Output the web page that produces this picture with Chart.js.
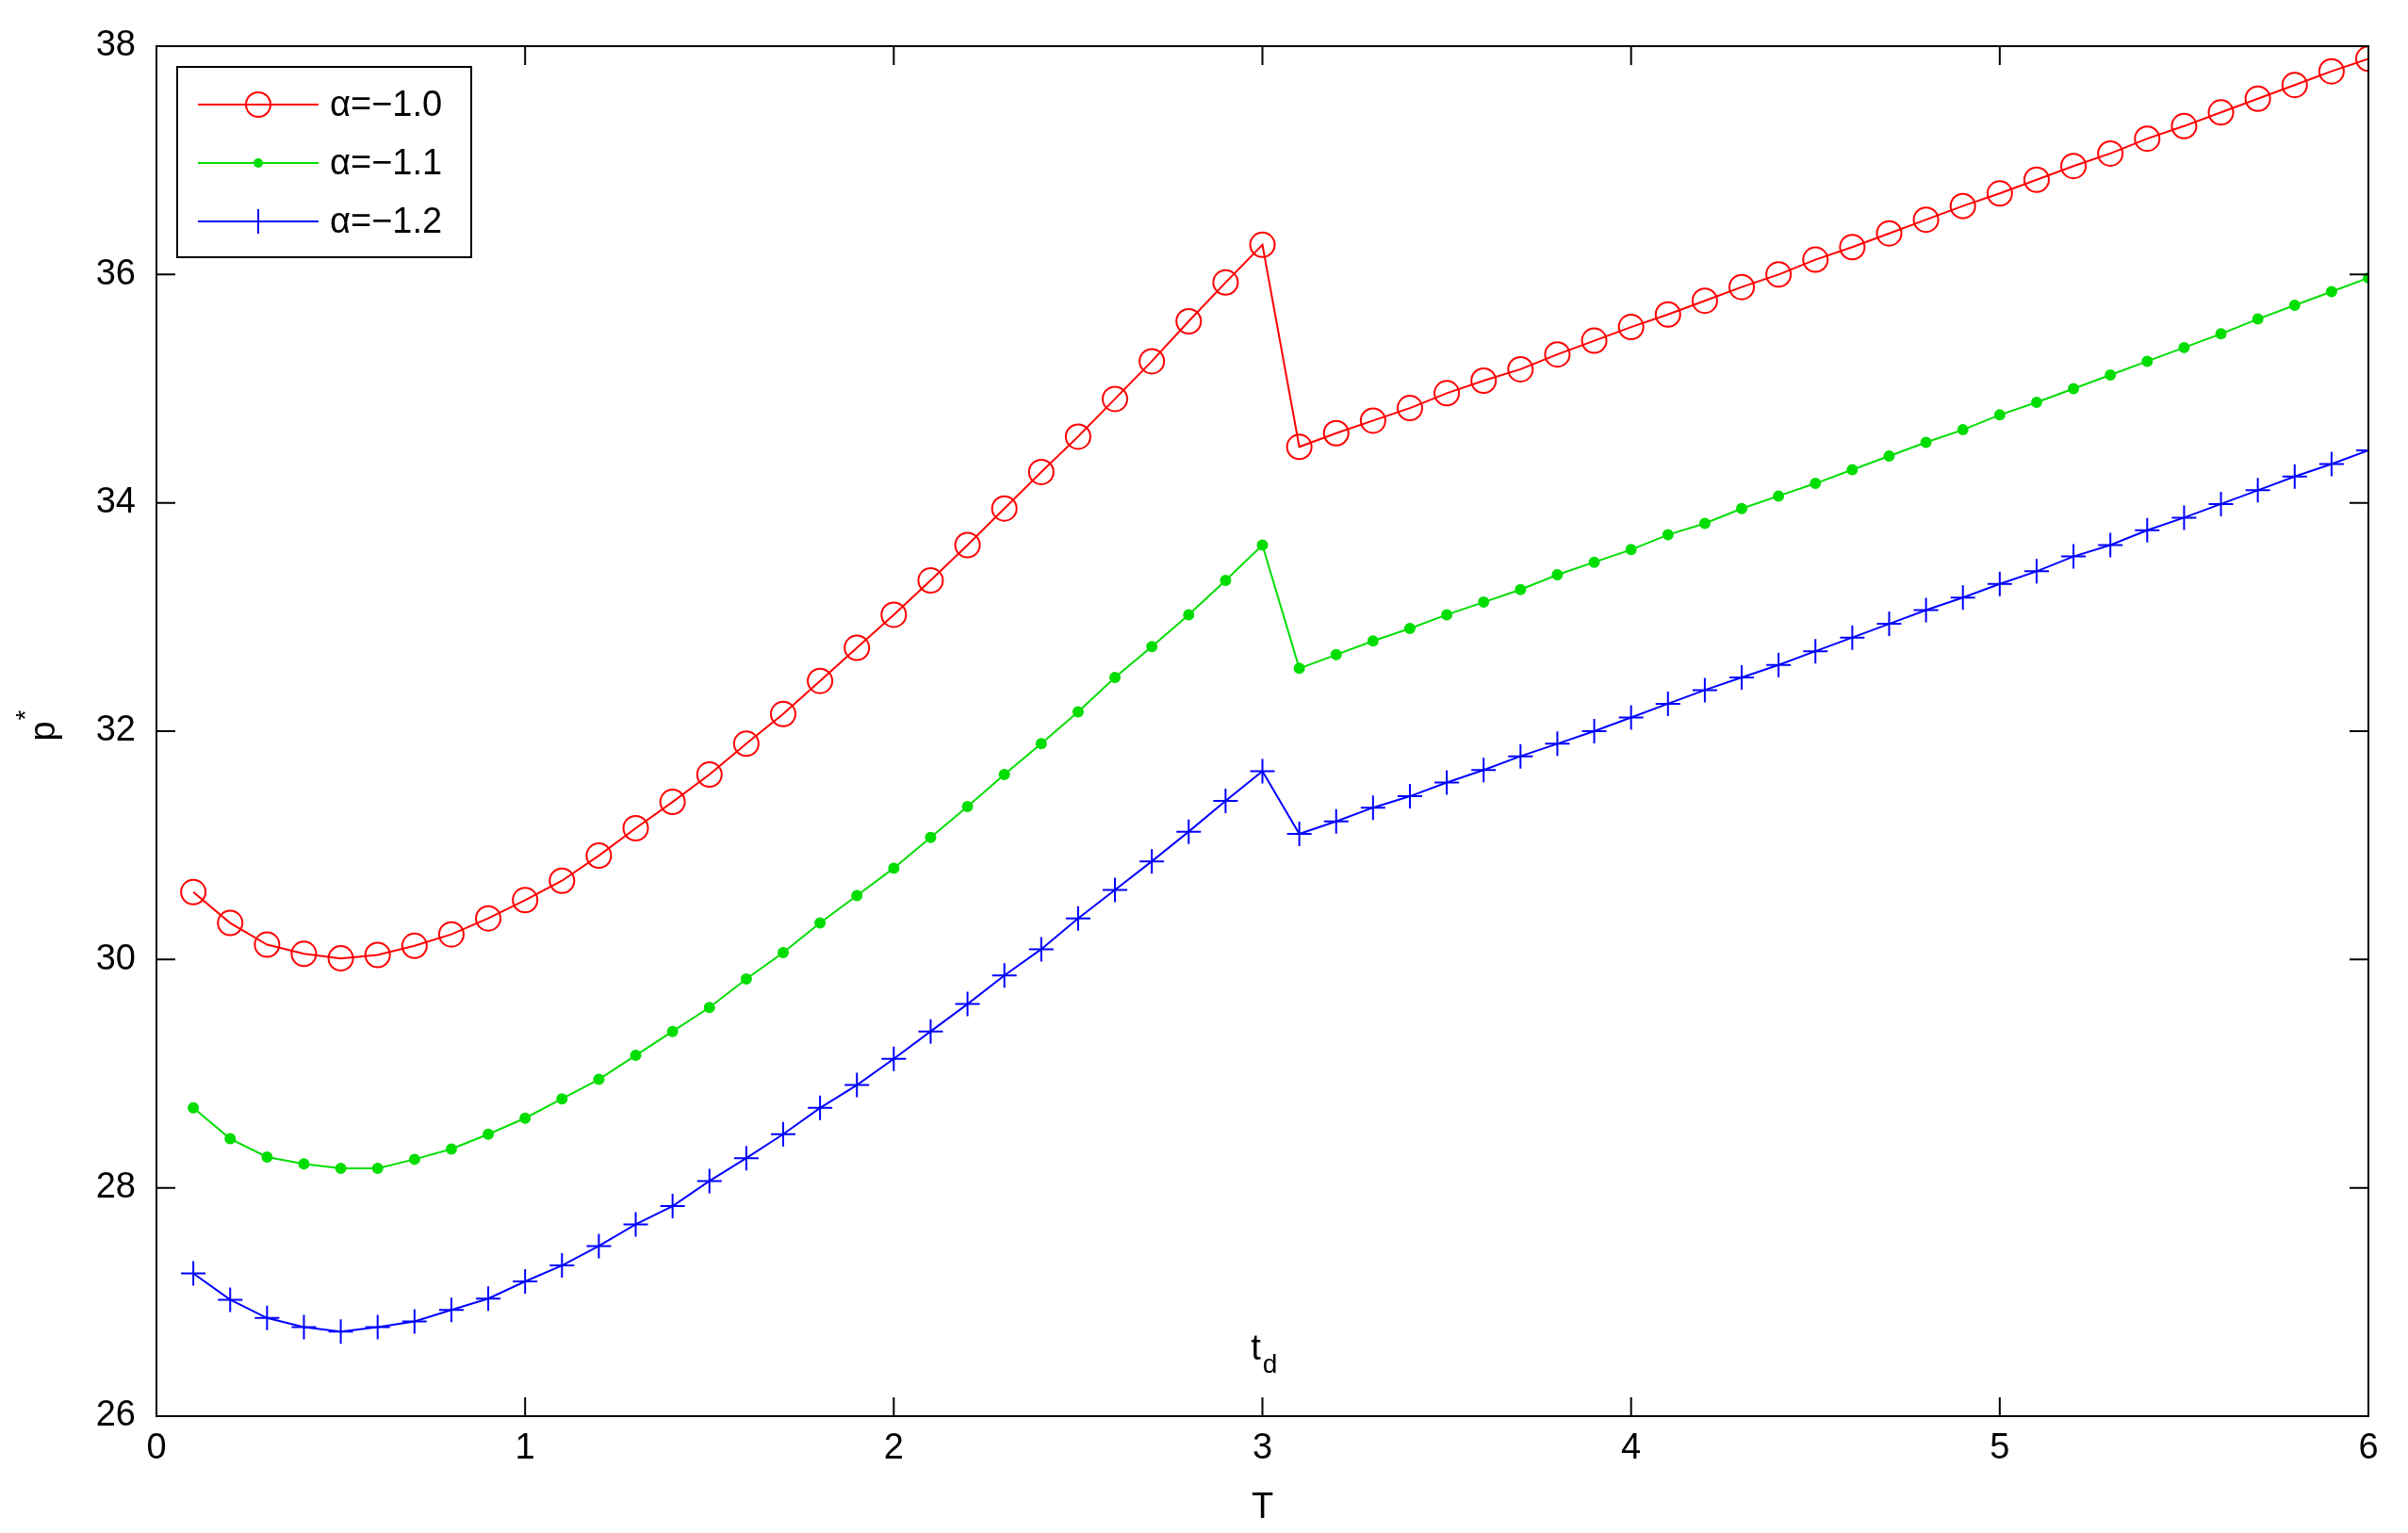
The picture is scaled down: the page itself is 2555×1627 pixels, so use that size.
<!DOCTYPE html>
<html><head><meta charset="utf-8">
<script src="https://cdn.jsdelivr.net/npm/chart.js@4"></script>
<style>html,body{margin:0;padding:0;background:#fff}#w{width:2555px;height:1627px}</style>
</head><body><div id="w"><canvas id="c"></canvas></div>
<script>
const T = Array.from({length:60},(_,i)=>+((i+1)/10).toFixed(1));
const seriesA10 = [30.59,30.32,30.13,30.05,30.01,30.04,30.12,30.22,30.36,30.52,30.69,30.91,31.15,31.38,31.62,31.89,32.15,32.44,32.73,33.02,33.32,33.63,33.95,34.27,34.58,34.91,35.24,35.59,35.93,36.26,34.49,34.61,34.72,34.83,34.96,35.07,35.17,35.30,35.42,35.54,35.65,35.77,35.89,36.00,36.13,36.24,36.36,36.48,36.60,36.71,36.83,36.95,37.06,37.19,37.30,37.42,37.54,37.66,37.78,37.89];
const seriesA11 = [28.70,28.43,28.27,28.21,28.17,28.17,28.25,28.34,28.47,28.61,28.78,28.95,29.16,29.37,29.58,29.83,30.06,30.32,30.56,30.80,31.07,31.34,31.62,31.89,32.17,32.47,32.74,33.02,33.32,33.63,32.55,32.67,32.79,32.90,33.02,33.13,33.24,33.37,33.48,33.59,33.72,33.82,33.95,34.06,34.17,34.29,34.41,34.53,34.64,34.77,34.88,35.00,35.12,35.24,35.36,35.48,35.61,35.73,35.85,35.97];
const seriesA12 = [27.25,27.02,26.86,26.78,26.74,26.78,26.83,26.93,27.03,27.18,27.32,27.49,27.68,27.84,28.06,28.26,28.47,28.70,28.90,29.13,29.37,29.61,29.86,30.09,30.36,30.61,30.86,31.12,31.39,31.65,31.10,31.21,31.33,31.43,31.55,31.66,31.78,31.89,32.00,32.12,32.24,32.36,32.47,32.58,32.70,32.82,32.94,33.06,33.17,33.29,33.40,33.53,33.63,33.76,33.87,33.99,34.11,34.23,34.34,34.46];
const labels = ['α=−1.0','α=−1.1','α=−1.2'];
const xTicks=[0,1,2,3,4,5,6], yTicks=[26,28,30,32,34,36,38];
const FONT='"Liberation Sans", Arial, sans-serif';
const pts=a=>a.map((v,i)=>({x:T[i],y:v}));
const styles=[
 {c:'#ff0000',ps:'circle',r:13,fill:'rgba(0,0,0,0)'},
 {c:'#00dd00',ps:'circle',r:5,fill:'#00dd00'},
 {c:'#0000ff',ps:'cross',r:13,fill:'#0000ff'}];
const datasets=[seriesA10,seriesA11,seriesA12].map((a,i)=>({label:labels[i],data:pts(a),borderColor:styles[i].c,
 backgroundColor:styles[i].fill,pointStyle:styles[i].ps,pointRadius:styles[i].r,pointBorderColor:styles[i].c,
 pointBorderWidth:2,borderWidth:2,tension:0}));
const deco={id:'deco',afterDraw(ch){
 const ctx=ch.ctx,a=ch.chartArea,xs=ch.scales.x,ys=ch.scales.y;
 ctx.save();ctx.strokeStyle='#000';ctx.lineWidth=2;
 ctx.strokeRect(a.left,a.top,a.right-a.left,a.bottom-a.top);
 const L=20;ctx.beginPath();
 xTicks.forEach(v=>{const p=xs.getPixelForValue(v);ctx.moveTo(p,a.bottom);ctx.lineTo(p,a.bottom-L);ctx.moveTo(p,a.top);ctx.lineTo(p,a.top+L);});
 yTicks.forEach(v=>{const p=ys.getPixelForValue(v);ctx.moveTo(a.left,p);ctx.lineTo(a.left+L,p);ctx.moveTo(a.right,p);ctx.lineTo(a.right-L,p);});
 ctx.stroke();
 ctx.fillStyle='#000';ctx.font='38px '+FONT;ctx.textAlign='center';ctx.textBaseline='alphabetic';
 const tx=xs.getPixelForValue(3);ctx.fillText('t',tx-7,a.bottom-60);ctx.font='28px '+FONT;ctx.fillText('d',tx+8,a.bottom-46);
 ctx.save();ctx.translate(58,(a.top+a.bottom)/2);ctx.rotate(-Math.PI/2);ctx.font='38px '+FONT;ctx.fillText('p',0,0);ctx.font='28px '+FONT;ctx.fillText('*',17,-22);ctx.restore();
 const lx=a.left+22,ly=a.top+22,lw=312,lh=202;
 ctx.fillStyle='#fff';ctx.fillRect(lx,ly,lw,lh);ctx.strokeRect(lx,ly,lw,lh);
 ctx.font='38px '+FONT;ctx.textAlign='left';ctx.textBaseline='middle';
 styles.forEach((s,i)=>{const y=ly+40+i*62;ctx.strokeStyle=s.c;ctx.lineWidth=2;ctx.beginPath();ctx.moveTo(lx+22,y);ctx.lineTo(lx+150,y);ctx.stroke();
  const cx=lx+86;ctx.beginPath();
  if(i===0){ctx.arc(cx,y,13,0,2*Math.PI);ctx.stroke();}
  else if(i===1){ctx.fillStyle=s.c;ctx.arc(cx,y,5,0,2*Math.PI);ctx.fill();}
  else {ctx.moveTo(cx-13,y);ctx.lineTo(cx+13,y);ctx.moveTo(cx,y-13);ctx.lineTo(cx,y+13);ctx.stroke();}
  ctx.fillStyle='#000';ctx.fillText(labels[i],lx+162,y+2);});
 ctx.restore();}};
new Chart(document.getElementById('c'),{type:'line',data:{datasets},plugins:[deco],
 options:{responsive:true,maintainAspectRatio:false,animation:false,
 layout:{padding:{top:49,right:42,left:0,bottom:0}},
 plugins:{legend:{display:false},tooltip:{enabled:false}},
 scales:{
  x:{type:'linear',min:0,max:6,afterFit(s){s.height=124;},afterBuildTicks(s){s.ticks=xTicks.map(v=>({value:v}));},
   grid:{display:false},border:{display:false},
   ticks:{color:'#000',font:{size:38,family:FONT},padding:4},
   title:{display:true,text:'T',color:'#000',font:{size:38,family:FONT},padding:{top:-6}}},
  y:{min:26,max:38,afterFit(s){s.width=166;},afterBuildTicks(s){s.ticks=yTicks.map(v=>({value:v}));},
   grid:{display:false},border:{display:false},
   ticks:{color:'#000',font:{size:38,family:FONT},padding:14}}}}});
</script></body></html>
